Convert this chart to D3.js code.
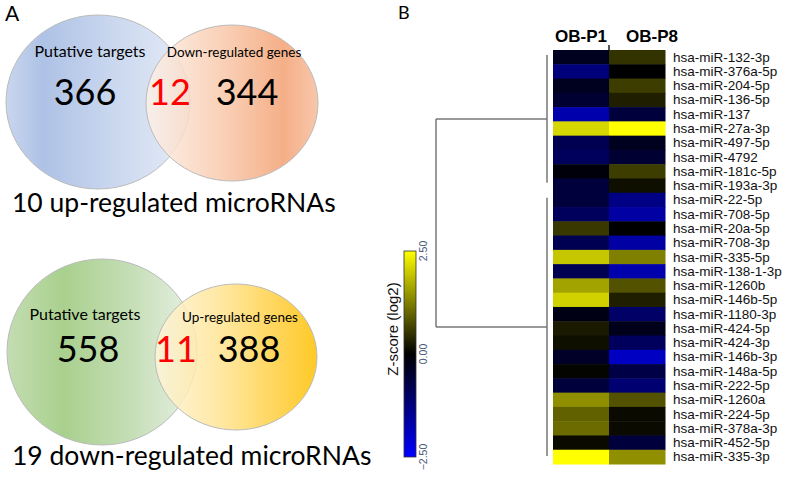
<!DOCTYPE html>
<head>
<meta charset="utf-8">
<script src="https://cdn.jsdelivr.net/npm/d3@7"></script>
<style>
  body { margin: 0; background: #fff; }
  svg { display: block; }
  .venn text { font-family: Lato, "Open Sans", sans-serif; }
  .heat text { font-family: "Liberation Sans", Arial, sans-serif; }
</style>
</head>
<body>
<svg width="800" height="477"></svg>
<script>
// --- data ---
var vennTop = { left: "Putative targets", right: "Down-regulated genes", a: 366, ab: 12, b: 344, title: "10 up-regulated microRNAs" }
var vennBottom = { left: "Putative targets", right: "Up-regulated genes", a: 558, ab: 11, b: 388, title: "19 down-regulated microRNAs" }

var samples = ["OB-P1", "OB-P8"]
var mirnas = ["hsa-miR-132-3p", "hsa-miR-376a-5p", "hsa-miR-204-5p", "hsa-miR-136-5p", "hsa-miR-137",
  "hsa-miR-27a-3p", "hsa-miR-497-5p", "hsa-miR-4792", "hsa-miR-181c-5p", "hsa-miR-193a-3p",
  "hsa-miR-22-5p", "hsa-miR-708-5p", "hsa-miR-20a-5p", "hsa-miR-708-3p", "hsa-miR-335-5p",
  "hsa-miR-138-1-3p", "hsa-miR-1260b", "hsa-miR-146b-5p", "hsa-miR-1180-3p", "hsa-miR-424-5p",
  "hsa-miR-424-3p", "hsa-miR-146b-3p", "hsa-miR-148a-5p", "hsa-miR-222-5p", "hsa-miR-1260a",
  "hsa-miR-224-5p", "hsa-miR-378a-3p", "hsa-miR-452-5p", "hsa-miR-335-3p"]
var zP1 = [-0.3, -1.2, -0.3, -0.5, -1.7, 2.1, -0.8, -0.9, -0.1, -0.6,
  -0.6, -0.9, 0.55, -0.8, 1.95, -0.8, 1.6, 2.05, -0.2, 0.25,
  0.15, -0.4, 0.05, -0.6, 1.4, 0.95, 1.05, 0.1, 2.5]
var zP8 = [0.5, 0.0, 0.6, 0.3, -0.6, 2.5, -0.3, -0.5, 0.6, 0.15,
  -1.3, -1.6, 0.0, -1.6, 1.25, -1.7, 0.8, 0.3, -1.0, -0.25,
  -0.9, -1.9, -0.7, -1.1, 0.8, 0.1, 0.1, -0.6, 1.4]
var clusters = [{ first: 0, last: 9 }, { first: 10, last: 28 }]
var colorTicks = [-2.5, 0, 2.5]

var svg = d3.select("svg")
var defs = svg.append("defs")

function grad(id, stops) {
  var g = defs.append("linearGradient").attr("id", id)
  stops.forEach(function (s) { g.append("stop").attr("offset", s[0]).attr("stop-color", s[1]) })
}
grad("gBlue", [[0, "#c9d6ee"], [0.2, "#aec2e6"], [0.6, "#cbd8ef"], [1, "#e6ecf7"]])
grad("gOrange", [[0, "#fdf2ea"], [0.45, "#f8c8aa"], [0.8, "#f3a173"], [1, "#f7bd9c"]])
grad("gGreen", [[0, "#c3ddb2"], [0.3, "#a9d08e"], [0.65, "#c5deb6"], [1, "#e9f1e6"]])
grad("gYellow", [[0, "#fff5da"], [0.4, "#ffe494"], [0.85, "#ffc825"], [1, "#ffc000"]])

svg.append("text").attr("x", 5).attr("y", 21).attr("font-family", "Lato, sans-serif")
  .attr("font-size", 21).text("A")
svg.append("text").attr("x", 398).attr("y", 19).attr("font-family", "Lato, sans-serif")
  .attr("font-size", 18).text("B")

function venn(d, geo, fills) {
  var g = svg.append("g").attr("class", "venn")
  g.append("ellipse").attr("cx", geo.l[0]).attr("cy", geo.l[1]).attr("rx", geo.l[2]).attr("ry", geo.l[3])
    .attr("fill", "url(#" + fills[0] + ")").attr("stroke", "#bbb")
  g.append("ellipse").attr("cx", geo.r[0]).attr("cy", geo.r[1]).attr("rx", geo.r[2]).attr("ry", geo.r[3])
    .attr("fill", "url(#" + fills[1] + ")").attr("fill-opacity", 0.85).attr("stroke", "#bbb")
  g.append("text").attr("x", geo.lt[0]).attr("y", geo.lt[1]).attr("font-size", 16).attr("text-anchor", "middle").text(d.left)
  g.append("text").attr("x", geo.rt[0]).attr("y", geo.rt[1]).attr("font-size", 13.5).attr("text-anchor", "middle").text(d.right)
  g.append("text").attr("x", geo.n[0]).attr("y", geo.n[3]).attr("font-size", 36).attr("text-anchor", "middle").text(d.a)
  g.append("text").attr("x", geo.n[1]).attr("y", geo.n[3]).attr("font-size", 36).attr("text-anchor", "middle").attr("fill", "#f00").text(d.ab)
  g.append("text").attr("x", geo.n[2]).attr("y", geo.n[3]).attr("font-size", 36).attr("text-anchor", "middle").text(d.b)
  g.append("text").attr("x", 12).attr("y", geo.title).attr("font-size", 26.5).text(d.title)
}

venn(vennTop, { l: [98, 102, 92, 87], r: [232, 103, 86, 78], lt: [90, 57], rt: [234, 57],
  n: [85, 170, 247, 105], title: 212 }, ["gBlue", "gOrange"])
venn(vennBottom, { l: [102, 352, 95, 93], r: [236, 357, 81, 73], lt: [85, 320], rt: [240, 322],
  n: [88, 176, 249, 362], title: 465 }, ["gGreen", "gYellow"])

// --- heatmap ---
var heat = svg.append("g").attr("class", "heat")
var x = d3.scaleBand().domain(samples).range([553, 665])
var y = d3.scaleBand().domain(mirnas).range([50, 464])
var color = d3.scaleLinear().domain([-2.5, 0, 2.5]).range(["#0000ff", "#000000", "#ffff00"])

var cells = []
mirnas.forEach(function (m, i) {
  cells.push({ s: samples[0], m: m, v: zP1[i] })
  cells.push({ s: samples[1], m: m, v: zP8[i] })
})
heat.selectAll("rect.cell").data(cells).enter().append("rect").attr("class", "cell")
  .attr("x", function (d) { return x(d.s) }).attr("y", function (d) { return y(d.m) })
  .attr("width", x.bandwidth() + 0.5).attr("height", y.bandwidth() + 0.5)
  .attr("fill", function (d) { return color(d.v) })

heat.selectAll("text.row").data(mirnas).enter().append("text").attr("class", "row")
  .attr("x", 673).attr("y", function (d) { return y(d) + y.bandwidth() / 2 + 4.5 })
  .attr("font-size", 13.5).attr("fill", "#111").text(function (d) { return d })

heat.selectAll("text.col").data(samples).enter().append("text").attr("class", "col")
  .attr("x", function (d, i) { return x(d) + (i ? 17 : 2) }).attr("y", 42)
  .attr("font-size", 17).attr("font-weight", "bold").text(function (d) { return d })

heat.append("line").attr("x1", x(samples[1])).attr("x2", x(samples[1]))
  .attr("y1", 45).attr("y2", 50).attr("stroke", "#222").attr("stroke-width", 1.5)

// dendrogram
var dx = d3.scaleLinear().domain([0, 1]).range([547, 436])
var bw = y.bandwidth()
var segs = clusters.map(function (c, i) {
  var top = y(mirnas[c.first]) + 5, bot = y(mirnas[c.last]) + bw - (i ? 8 : 10)
  return { top: top, bot: bot, mid: (top + bot) / 2 }
})
var dend = heat.append("g").attr("stroke", "#777").attr("stroke-width", 1.5).attr("fill", "none")
segs.forEach(function (s) {
  dend.append("line").attr("x1", dx(0)).attr("x2", dx(0)).attr("y1", s.top).attr("y2", s.bot)
  dend.append("line").attr("x1", dx(0)).attr("x2", dx(1)).attr("y1", s.mid).attr("y2", s.mid)
})
dend.append("line").attr("x1", dx(1)).attr("x2", dx(1)).attr("y1", segs[0].mid).attr("y2", segs[1].mid)

// colour bar
var cy = d3.scaleLinear().domain([-2.5, 2.5]).range([457, 251])
var cg = defs.append("linearGradient").attr("id", "gBar").attr("x1", 0).attr("y1", 1).attr("x2", 0).attr("y2", 0)
colorTicks.forEach(function (t) {
  cg.append("stop").attr("offset", (t + 2.5) / 5).attr("stop-color", color(t))
})
heat.append("rect").attr("x", 404).attr("y", cy(2.5)).attr("width", 12).attr("height", cy(-2.5) - cy(2.5))
  .attr("fill", "url(#gBar)").attr("stroke", "#333").attr("stroke-width", 0.8)
heat.selectAll("text.tick").data(colorTicks).enter().append("text").attr("class", "tick")
  .attr("transform", function (d) { return "translate(427," + cy(d) + ") rotate(-90)" })
  .attr("text-anchor", "middle").attr("font-size", 10.5).attr("fill", "#4a5878")
  .text(function (d) { return d3.format(".2f")(d) })
heat.append("text").attr("transform", "translate(398,329) rotate(-90)").attr("text-anchor", "middle")
  .attr("font-size", 15).attr("fill", "#111").text("Z-score (log2)")
</script>
</body>
